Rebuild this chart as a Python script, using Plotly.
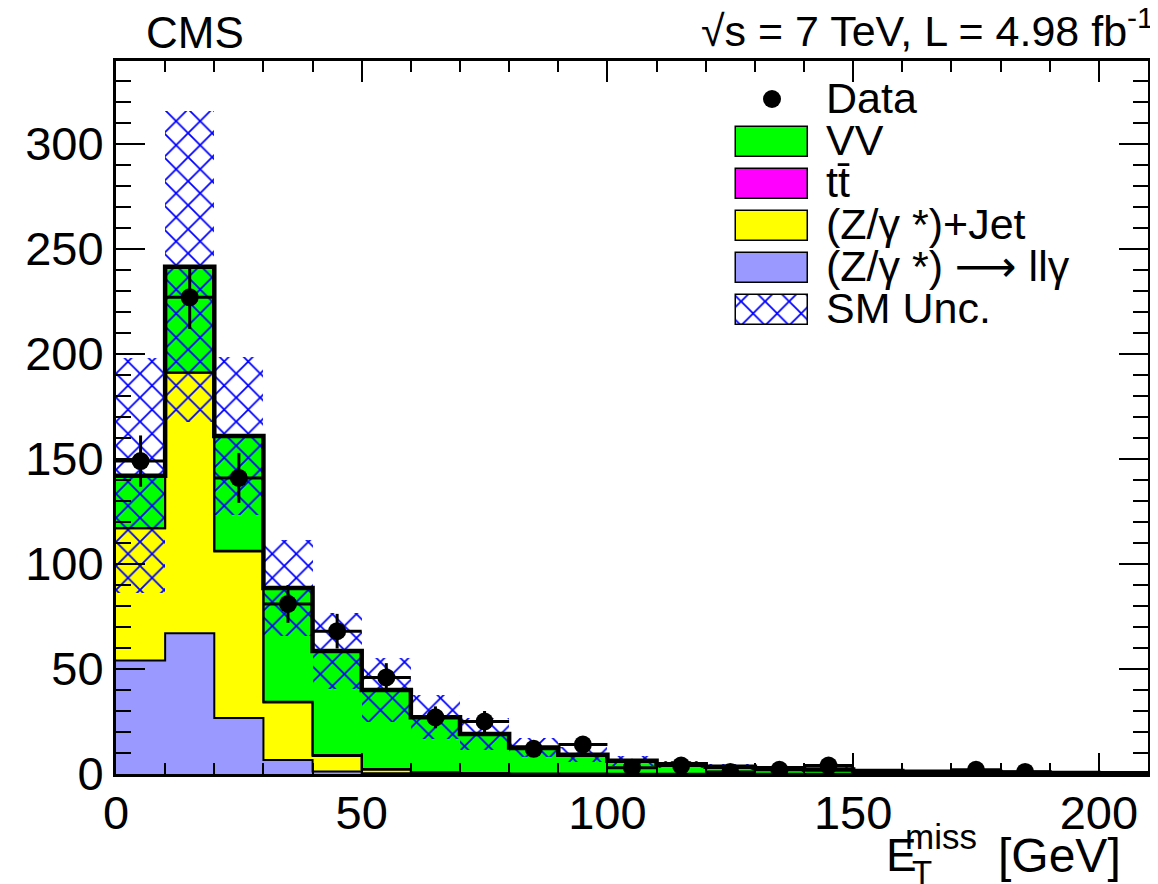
import numpy as np
import plotly.graph_objects as go

# MET bins, 10 GeV wide
edges = np.arange(0, 211, 10)
centers = edges[:-1] + 5

# stacked SM components (events / bin)
z_llg = [54, 67, 26.7, 6.7, 1.2, 0.3, 0.1, 0, 0, 0, 0, 0, 0, 0, 0, 0, 0, 0, 0, 0, 0]
z_jet = [63, 124, 79.3, 27.3, 7.4, 1.7, 0.4, 0.2, 0, 0, 0, 0, 0, 0, 0, 0, 0, 0, 0, 0, 0]
ttbar = [0, 0.2, 0.3, 0.4, 0.4, 0.4, 0.3, 0.3, 0.2, 0.2, 0.1, 0.1, 0.1, 0.1, 0.1, 0, 0, 0, 0, 0, 0]
vv = [25, 50.3, 54.7, 54.2, 49.6, 37.6, 26.2, 18.5, 12.4, 9.0, 6.2, 4.5, 3.4, 2.6, 2.1, 1.4, 1.1, 0.9, 0.7, 0.5, 0.4]
sm_unc = [56, 74, 37.5, 23, 18, 15, 10.5, 7.6, 4.5, 3.5, 2.5, 1.8, 1.4, 1.1, 0.9, 0.6, 0.5, 0.4, 0.3, 0.2, 0.2]
data = [149, 227, 141, 81, 68, 46, 27, 25, 12, 14, 3, 4, 1, 2, 4, 0, 0, 2, 1, 0, 0]

FONT = "Liberation Sans, Arial, Helvetica, sans-serif"
O = 8  # page body margin
L, R, T, B = 116, 1148, 61, 774  # plot frame in page pixels
HATCH = dict(shape="x", size=17, solidity=0.2, fillmode="replace")


def px(x):
    return (x - L) / (R - L)


def py(y):
    return (B - y) / (B - T)


lev1 = np.array(z_llg)
lev2 = lev1 + np.array(z_jet)
lev3 = lev2 + np.array(ttbar)
total = lev3 + np.array(vv)
unc = np.array(sm_unc)

fig = go.Figure()

# filled stack
for vals, base, col in [(z_llg, 0, "#9999ff"), (z_jet, lev1, "#ffff00"),
                        (ttbar, lev2, "#ff00ff"), (vv, lev3, "#00ff00")]:
    fig.add_trace(go.Bar(x=centers, y=vals, base=base, width=10,
                         marker=dict(color=col, line=dict(width=0))))

# SM uncertainty band
fig.add_trace(go.Bar(x=centers, y=2 * unc, base=total - unc, width=10,
                     marker=dict(color="#0000ff", line=dict(width=0), pattern=HATCH)))

# step outlines
for lev, w in [(lev1, 2), (lev2, 2), (lev3, 2), (total, 4.5)]:
    fig.add_trace(go.Scatter(x=edges, y=np.append(lev, lev[-1]), mode="lines",
                             line=dict(color="black", width=w, shape="hv")))

# data
d = np.array(data, dtype=float)
fig.add_trace(go.Scatter(
    x=centers, y=np.where(d > 0, d, np.nan), mode="markers",
    marker=dict(color="black", size=18),
    error_y=dict(type="data", array=np.sqrt(d), thickness=3, width=0, color="black"),
    error_x=dict(type="constant", value=5, thickness=3, width=0, color="black"),
))

# legend drawn on a pixel-coordinate overlay axis
leg_boxes = [("#00ff00", 127), ("#ff00ff", 169), ("#ffff00", 211), ("#9999ff", 253)]
for col, top in leg_boxes:
    fig.add_trace(go.Bar(x=[772], y=[30], base=[top], width=72, xaxis="x2", yaxis="y2",
                         marker=dict(color=col, line=dict(color="black", width=1.5))))
fig.add_trace(go.Bar(x=[772], y=[30], base=[295], width=72, xaxis="x2", yaxis="y2",
                     marker=dict(color="#0000ff", line=dict(color="black", width=1.5),
                                 pattern=HATCH)))
fig.add_trace(go.Scatter(x=[772], y=[99], mode="markers", xaxis="x2", yaxis="y2",
                         marker=dict(color="black", size=18)))

arrow = "<span style='font-family:DejaVu Sans'>\u27f6</span>"
leg_text = [("Data", 100), ("VV", 142), ("tt\u0304", 184), ("(Z/\u03b3 *)+Jet", 226),
            ("(Z/\u03b3 *) " + arrow + " ll\u03b3", 268), ("SM Unc.", 310)]
ann = []
for txt, yy in leg_text:
    ann.append(dict(text=txt, x=px(824), y=py(yy - 2), xanchor="left", yanchor="middle",
                    font=dict(size=43)))

ann += [
    dict(text="CMS", x=px(195), y=py(32), xanchor="center", yanchor="middle",
         font=dict(size=44)),
    dict(text="\u221as = 7 TeV, L = 4.98 fb<sup>-1</sup>", x=px(1156), y=py(28),
         xanchor="right", yanchor="middle", font=dict(size=43)),
    dict(text="E", x=px(884), y=py(855), xanchor="left", yanchor="middle",
         font=dict(size=46)),
    dict(text="miss", x=px(903), y=py(836), xanchor="left", yanchor="middle",
         font=dict(size=35)),
    dict(text="T", x=px(910), y=py(872), xanchor="left", yanchor="middle",
         font=dict(size=33)),
    dict(text="[GeV]", x=px(996), y=py(855), xanchor="left", yanchor="middle",
         font=dict(size=48)),
]
for a in ann:
    a.update(xref="paper", yref="paper", showarrow=False)

axis_common = dict(showline=True, linewidth=3, linecolor="black", mirror="ticks",
                   ticks="inside", tickwidth=2, tickcolor="black", showgrid=False,
                   zeroline=False, automargin=False,
                   tickfont=dict(size=47, color="black", family=FONT))

fig.update_layout(
    width=1158 - O, height=884 - O,
    margin=dict(l=L - O, r=1158 - R, t=T - O, b=884 - B),
    paper_bgcolor="white", plot_bgcolor="white",
    barmode="overlay", bargap=0, showlegend=False,
    font=dict(family=FONT, color="black"),
    xaxis=dict(range=[0, 210], tick0=0, dtick=50, ticklen=21, ticklabelstandoff=-4,
               minor=dict(dtick=10, ticklen=11, ticks="inside", tickwidth=2,
                          tickcolor="black"),
               **axis_common),
    yaxis=dict(range=[0, 339.5], tick0=0, dtick=50, ticklen=29,
               minor=dict(dtick=10, ticklen=15, ticks="inside", tickwidth=2,
                          tickcolor="black"),
               **axis_common),
    xaxis2=dict(range=[L, R], overlaying="x", visible=False),
    yaxis2=dict(range=[B, T], overlaying="y", visible=False),
    annotations=ann,
)

fig.write_html("out.html")
